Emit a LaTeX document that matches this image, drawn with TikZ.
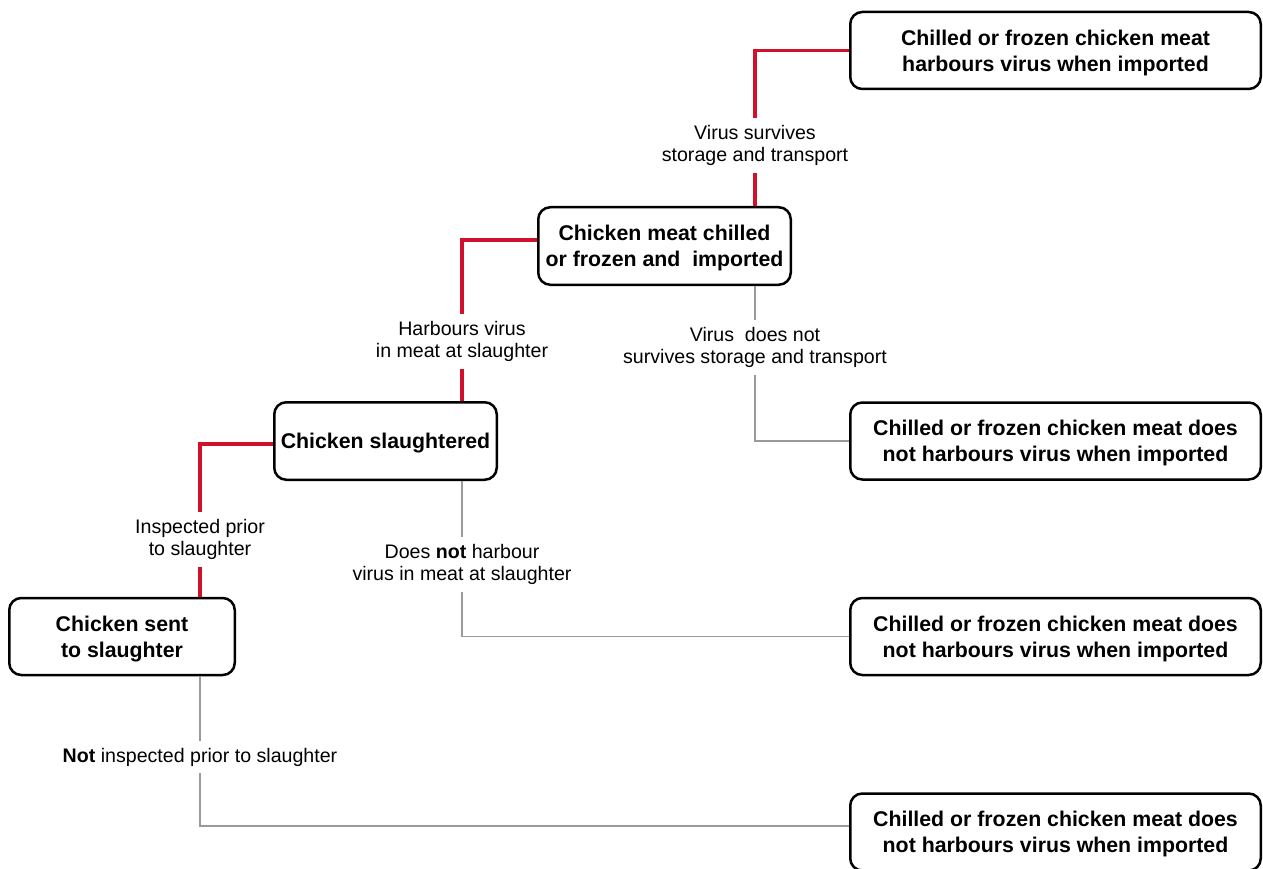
\documentclass[tikz,border=0pt]{standalone}
\usepackage{fontspec}
\setmainfont{Liberation Sans}
\definecolor{cred}{HTML}{D0112B}
\definecolor{cgray}{HTML}{9A9A9A}
\newcommand{\bxt}[1]{\raisebox{-2.7pt}[\height][\depth]{\begin{tabular}{@{}c@{}}#1\end{tabular}}}
\begin{document}
\begin{tikzpicture}[x=1pt,y=-1pt,
  box/.style={draw=black, line width=2.5pt, rounded corners=12pt, align=center,
    font=\bfseries\fontsize{21.3}{26}\selectfont, inner sep=0pt},
  wbox/.style={box, minimum width=410.5pt, minimum height=77pt},
  lbl/.style={fill=white, align=center, font=\fontsize{19.6}{22.5}\selectfont,
    inner xsep=2pt, inner ysep=7pt},
  yesline/.style={draw=cred, line width=3.5pt},
  noline/.style={draw=cgray, line width=1.2pt}]
\useasboundingbox (0,0) rectangle (1263,869);

% nodes
\node[wbox] (A) at (1055.5,50.5) {\bxt{Chilled or frozen chicken meat\\harbours virus when imported}};
\node[box, minimum width=252.5pt, minimum height=77.5pt] (B) at (664.5,246) {\bxt{Chicken meat chilled\\or frozen and\ \ imported}};
\node[box, minimum width=222.5pt, minimum height=77.5pt] (C) at (385.5,441) {\bxt{Chicken slaughtered}};
\node[box, minimum width=225.5pt, minimum height=77pt] (D) at (122,636.5) {\bxt{Chicken sent\\to slaughter}};
\node[wbox] (E) at (1055.5,441) {\bxt{Chilled or frozen chicken meat does\\\textbf{not} harbours virus when imported}};
\node[wbox] (F) at (1055.5,636.5) {\bxt{Chilled or frozen chicken meat does\\\textbf{not} harbours virus when imported}};
\node[wbox] (G) at (1055.5,832) {\bxt{Chilled or frozen chicken meat does\\\textbf{not} harbours virus when imported}};

% connectors
\draw[yesline] (A.west) -| ([xshift=90.5pt]B.north);
\draw[yesline] ([yshift=6pt]B.west) -| ([xshift=76.5pt]C.north);
\draw[yesline] ([yshift=-3pt]C.west) -| ([xshift=78pt]D.north);
\draw[noline] (E.west) -| ([xshift=90.5pt]B.south);
\draw[noline] (F.west) -| ([xshift=76.5pt]C.south);
\draw[noline] ([yshift=6pt]G.west) -| ([xshift=78pt]D.south);

% labels
\node[lbl] (l1) at (755,145.5) {Virus survives\\storage and transport};
\node[lbl] (l2) at (462,341.5) {Harbours virus\\in meat at slaughter};
\node[lbl] (l3) at (200,539.5) {Inspected prior\\to slaughter};
\node[lbl] (l4) at (755,347.5) {Virus\ \ does not\\survives storage and transport};
\node[lbl] (l5) at (462,564.5) {Does \textbf{not} harbour\\virus in meat at slaughter};
\node[lbl] (l6) at (200,757) {\textbf{Not} inspected prior to slaughter};
\end{tikzpicture}
\end{document}
